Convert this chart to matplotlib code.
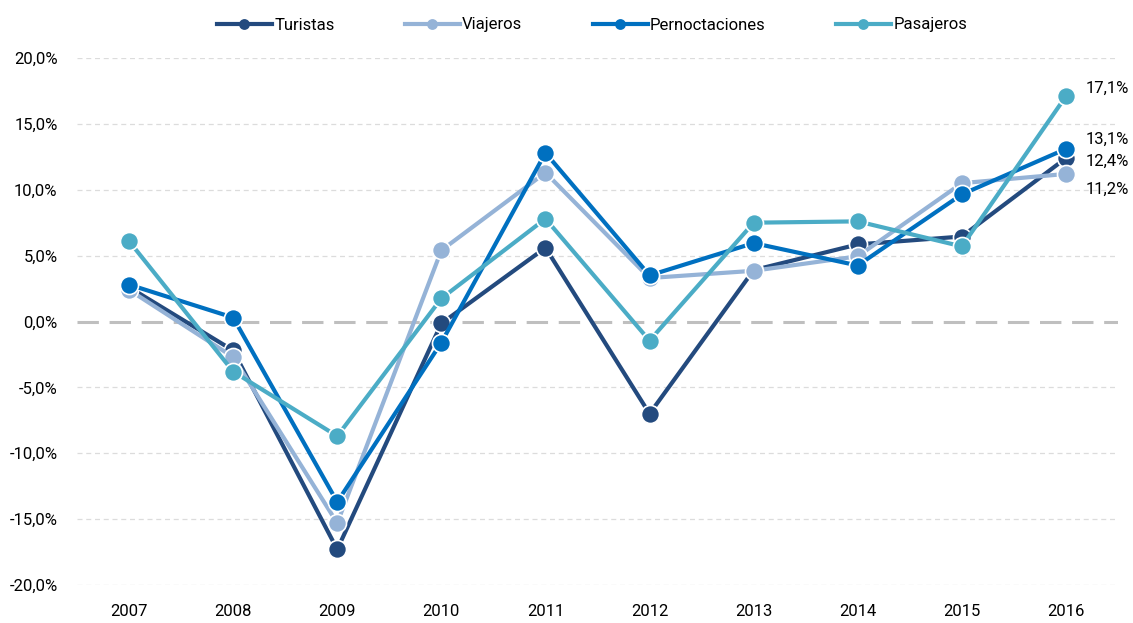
import matplotlib
matplotlib.use("Agg")
import matplotlib.pyplot as plt

years = ["2007", "2008", "2009", "2010", "2011", "2012", "2013", "2014", "2015", "2016"]
turistas = [2.6, -2.2, -17.3, -0.15, 5.6, -7.0, 3.9, 5.85, 6.45, 12.4]
viajeros = [2.4, -2.7, -15.3, 5.4, 11.3, 3.3, 3.85, 4.95, 10.5, 11.2]
pernoctaciones = [2.8, 0.3, -13.7, -1.6, 12.8, 3.5, 5.95, 4.25, 9.65, 13.1]
pasajeros = [6.1, -3.8, -8.7, 1.75, 7.8, -1.45, 7.5, 7.6, 5.7, 17.1]
yticks = [-20, -15, -10, -5, 0, 5, 10, 15, 20]

plt.rcParams["font.family"] = ["Roboto", "DejaVu Sans"]

series = [
    ("Turistas", turistas, "#234a7e"),
    ("Viajeros", viajeros, "#95b3d7"),
    ("Pernoctaciones", pernoctaciones, "#0070c0"),
    ("Pasajeros", pasajeros, "#4bacc6"),
]

fig = plt.figure(figsize=(11.33, 6.23), dpi=100)
ax = fig.add_axes([77 / 1133, 1 - 585 / 623, (1118 - 77) / 1133, (585 - 58) / 623])

x = list(range(len(years)))
for yv in yticks:
    if yv == 0:
        ax.axhline(yv, color="#bfbfbf", lw=2.2, dashes=(7, 3.5), zorder=1)
    else:
        ax.axhline(yv, color="#dcdcdc", lw=0.9, dashes=(4, 3), zorder=1)

for name, vals, col in series:
    ax.plot(x, vals, color=col, lw=3, marker="o", ms=13, mec="white", mew=1.2,
            label=name, zorder=3, clip_on=False)

# etiquetas del ultimo año
offsets = {"Pasajeros": (14, 6), "Pernoctaciones": (14, 7), "Turistas": (14, -2), "Viajeros": (14, -11)}
for name, vals, col in series:
    ax.annotate(f"{vals[-1]:.1f}%".replace(".", ","), (x[-1], vals[-1]),
                xytext=offsets[name], textcoords="offset points",
                ha="left", va="center", fontsize=12, color="#000000")

ax.set_xlim(-0.5, len(years) - 0.5)
ax.set_ylim(-20, 20)
ax.set_xticks(x)
ax.set_xticklabels(years, fontsize=12)
ax.set_yticks(yticks)
ax.set_yticklabels([f"{v:.1f}%".replace(".", ",") for v in yticks], fontsize=12)
ax.tick_params(length=0)
ax.tick_params(axis="y", pad=14)
ax.tick_params(axis="x", pad=14)
for s in ax.spines.values():
    s.set_visible(False)

leg = fig.legend(loc="center", bbox_to_anchor=(592 / 1133, 1 - 25 / 623), ncol=4,
                 frameon=False, fontsize=12, handlelength=3.3, handletextpad=0.15,
                 columnspacing=4.2, markerscale=0.6)
for h in leg.legend_handles:
    h.set_markeredgewidth(0)

fig.savefig("out.png", dpi=100, facecolor="white")
